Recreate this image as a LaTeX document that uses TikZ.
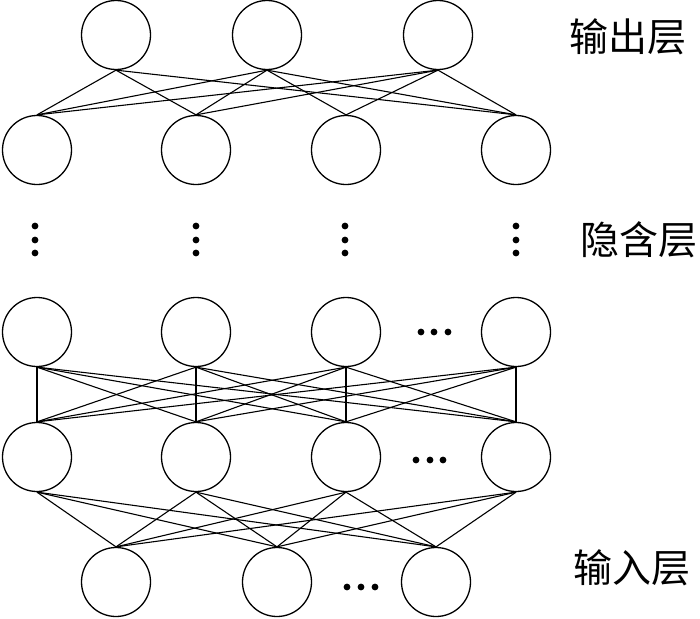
\documentclass[tikz,border=0pt]{standalone}
\usepackage{fontspec}
\newfontfamily\cjk{Noto Sans CJK SC}
\begin{document}
\begin{tikzpicture}[x=1pt,y=-1pt,
  neuron/.style={draw,circle,minimum size=69pt,inner sep=0pt,line width=1.3pt},
  link/.style={line width=1.1pt},
  dotmark/.style={fill=black},
  layerlabel/.style={font=\cjk\fontsize{39}{41}\selectfont,inner sep=0pt}]
\useasboundingbox (0,0) rectangle (700,618);
% output layer
\node[neuron] (o1) at (116,35) {};
\node[neuron] (o2) at (267,35) {};
\node[neuron] (o3) at (438,35) {};
% hidden top row
\node[neuron] (a1) at (37,150) {};
\node[neuron] (a2) at (196,150) {};
\node[neuron] (a3) at (346,150) {};
\node[neuron] (a4) at (516,150) {};
% hidden row 3
\node[neuron] (b1) at (37,332) {};
\node[neuron] (b2) at (196,332) {};
\node[neuron] (b3) at (346,332) {};
\node[neuron] (b4) at (516,332) {};
% hidden row 4
\node[neuron] (c1) at (37,457) {};
\node[neuron] (c2) at (196,457) {};
\node[neuron] (c3) at (346,457) {};
\node[neuron] (c4) at (516,457) {};
% input layer
\node[neuron] (i1) at (116,582) {};
\node[neuron] (i2) at (277,582) {};
\node[neuron] (i3) at (436,582) {};
% connections output -> hidden
\foreach \s/\t in {o1/a1,o1/a2,o1/a4,o2/a1,o2/a2,o2/a3,o2/a4,o3/a1,o3/a2,o3/a3,o3/a4}
  \draw[link] (\s.south) -- (\t.north);
% hidden row3 -> row4
\foreach \s in {b1,b2,b3,b4}
  \foreach \t in {c1,c2,c3,c4}
    \draw[link] (\s.south) -- (\t.north);
% row4 -> input
\foreach \s in {c1,c2,c3,c4}
  \foreach \t in {i1,i2,i3}
    \draw[link] (\s.south) -- (\t.north);
% vertical dots
\foreach \x in {35,196,345,516}
  \foreach \y in {226,240,253}
    \fill[dotmark] (\x,\y) circle (3.4pt);
% horizontal dots
\foreach \x in {421,434,448} \fill[dotmark] (\x,332) circle (3.4pt);
\foreach \x in {416,430,443} \fill[dotmark] (\x,460) circle (3.4pt);
\foreach \x in {347,361,375} \fill[dotmark] (\x,587) circle (3.4pt);
% labels
\node[layerlabel] (lo) at (628,37) {输出层};
\node[layerlabel] (lh) at (639,240) {隐含层};
\node[layerlabel] (li) at (632,568) {输入层};
\end{tikzpicture}
\end{document}
